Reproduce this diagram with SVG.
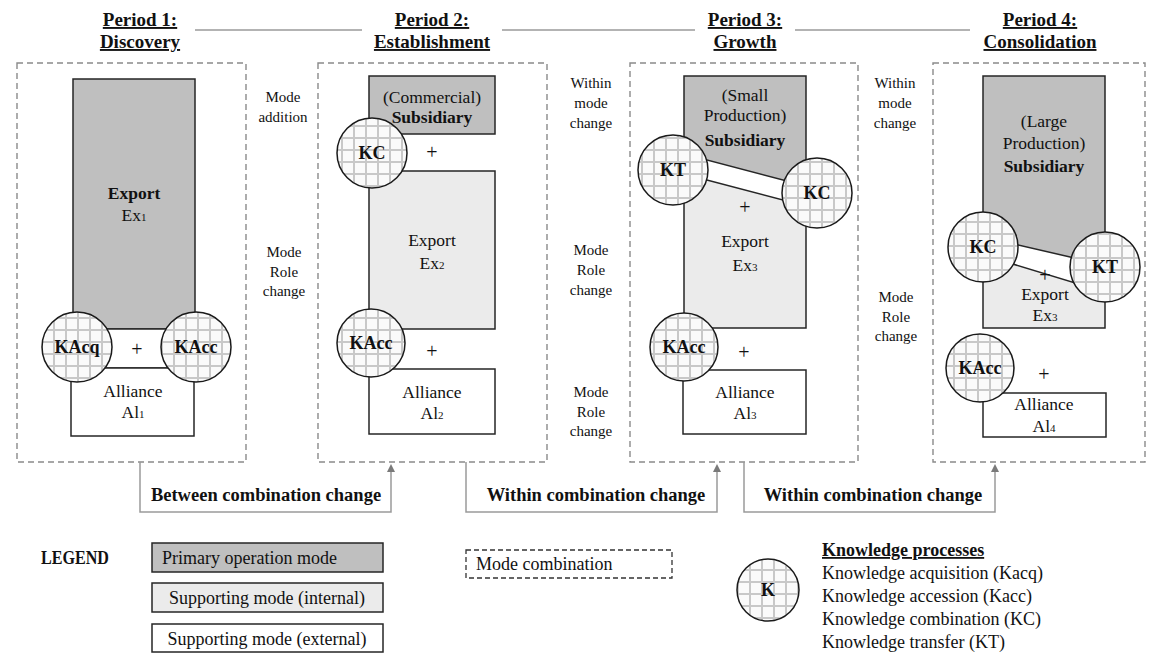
<svg xmlns="http://www.w3.org/2000/svg" width="1156" height="653" viewBox="0 0 1156 653">
<style>
text{font-family:"Liberation Serif","Times New Roman",serif;fill:#111;}
.hd{font-size:19px;font-weight:bold;text-anchor:middle;text-decoration:underline;}
.t{font-size:17.5px;text-anchor:middle;}
.b{font-weight:bold;}
.lbl{font-size:15px;text-anchor:middle;}
.kt{font-size:18px;font-weight:bold;text-anchor:middle;}
.plus{font-size:20px;text-anchor:middle;}
.dash{fill:none;stroke:#8a8a8a;stroke-width:1.4;stroke-dasharray:6 4;}
.prim{fill:#bfbfbf;stroke:#262626;stroke-width:1.5;}
.int{fill:#ebebeb;stroke:#262626;stroke-width:1.5;}
.ext{fill:#fff;stroke:#262626;stroke-width:1.5;}
.k{fill:url(#grid);stroke:#1a1a1a;stroke-width:1.5;}
.hl{stroke:#9a9a9a;stroke-width:1.5;}
.br{fill:none;stroke:#9a9a9a;stroke-width:1.5;}
.brt{font-size:18.5px;font-weight:bold;text-anchor:middle;}
.lg{font-size:18px;}
</style>
<defs>
<pattern id="grid" width="12" height="12" patternUnits="userSpaceOnUse">
<rect width="12" height="12" fill="#fafafa"/>
<path d="M6 0V12M0 6H12" stroke="#c8c8c8" stroke-width="2"/>
</pattern>
<marker id="arr" markerWidth="8" markerHeight="8" refX="4" refY="4" orient="auto" markerUnits="userSpaceOnUse">
<path d="M0,0 L8,4 L0,8 Z" fill="#7a7a7a"/>
</marker>
</defs>

<g id="headers">
<text class="hd" x="140" y="26">Period 1:</text>
<text class="hd" x="140" y="48">Discovery</text>
<text class="hd" x="432" y="26">Period 2:</text>
<text class="hd" x="432" y="48">Establishment</text>
<text class="hd" x="745" y="26">Period 3:</text>
<text class="hd" x="745" y="48">Growth</text>
<text class="hd" x="1040" y="26">Period 4:</text>
<text class="hd" x="1040" y="48">Consolidation</text>
<line class="hl" x1="195" y1="30" x2="362" y2="30"/>
<line class="hl" x1="502" y1="30" x2="695" y2="30"/>
<line class="hl" x1="795" y1="30" x2="970" y2="30"/>
</g>

<g id="transition-labels">
<text class="lbl" x="283" y="102">Mode</text>
<text class="lbl" x="283" y="122">addition</text>
<text class="lbl" x="284" y="257">Mode</text>
<text class="lbl" x="284" y="277">Role</text>
<text class="lbl" x="284" y="296">change</text>
<text class="lbl" x="591" y="88">Within</text>
<text class="lbl" x="591" y="108">mode</text>
<text class="lbl" x="591" y="128">change</text>
<text class="lbl" x="591" y="255">Mode</text>
<text class="lbl" x="591" y="275">Role</text>
<text class="lbl" x="591" y="295">change</text>
<text class="lbl" x="591" y="397">Mode</text>
<text class="lbl" x="591" y="417">Role</text>
<text class="lbl" x="591" y="436">change</text>
<text class="lbl" x="895" y="88">Within</text>
<text class="lbl" x="895" y="108">mode</text>
<text class="lbl" x="895" y="128">change</text>
<text class="lbl" x="896" y="302">Mode</text>
<text class="lbl" x="896" y="322">Role</text>
<text class="lbl" x="896" y="341">change</text>
</g>

<g id="period1">
<rect class="dash" x="17" y="63" width="229" height="399"/>
<rect class="prim" x="73" y="79" width="122" height="250"/>
<rect class="ext" x="73" y="329" width="122" height="39"/>
<rect class="ext" x="71" y="368" width="123" height="68"/>
<text class="t b" x="134" y="199">Export</text>
<text class="t" x="134" y="221">Ex<tspan font-size="11">1</tspan></text>
<text class="plus" x="137" y="356">+</text>
<text class="t" x="133" y="397">Alliance</text>
<text class="t" x="133" y="418">Al<tspan font-size="11">1</tspan></text>
<circle class="k" cx="77" cy="347" r="35"/>
<text class="kt" x="77" y="353">KAcq</text>
<circle class="k" cx="196" cy="347" r="35"/>
<text class="kt" x="196" y="353">KAcc</text>
</g>

<g id="period2">
<rect class="dash" x="318" y="63" width="229" height="399"/>
<rect class="prim" x="369" y="76" width="126" height="58"/>
<text class="t" x="432" y="103">(Commercial)</text>
<text class="t b" x="432" y="123">Subsidiary</text>
<rect class="int" x="369" y="171" width="126" height="158"/>
<text class="t" x="432" y="246">Export</text>
<text class="t" x="432" y="269">Ex<tspan font-size="11">2</tspan></text>
<rect class="ext" x="369" y="369" width="126" height="65"/>
<text class="t" x="432" y="398">Alliance</text>
<text class="t" x="432" y="419">Al<tspan font-size="11">2</tspan></text>
<text class="plus" x="432" y="159">+</text>
<text class="plus" x="432" y="358">+</text>
<circle class="k" cx="372" cy="153" r="35"/>
<text class="kt" x="372" y="159">KC</text>
<circle class="k" cx="371" cy="343" r="34"/>
<text class="kt" x="371" y="349">KAcc</text>
</g>

<g id="period3">
<rect class="dash" x="630" y="63" width="228" height="399"/>
<polygon class="prim" points="684,76 806,76 806,186 684,154"/>
<text class="t" x="745" y="101">(Small</text>
<text class="t" x="745" y="121">Production)</text>
<text class="t b" x="745" y="146">Subsidiary</text>
<polygon class="int" points="684,174 806,206 806,328 684,328"/>
<text class="plus" x="745" y="214">+</text>
<text class="t" x="745" y="247">Export</text>
<text class="t" x="745" y="271">Ex<tspan font-size="11">3</tspan></text>
<rect class="ext" x="683" y="370" width="123" height="64"/>
<text class="t" x="745" y="398">Alliance</text>
<text class="t" x="745" y="419">Al<tspan font-size="11">3</tspan></text>
<text class="plus" x="744" y="359">+</text>
<circle class="k" cx="673" cy="170" r="35"/>
<text class="kt" x="673" y="176">KT</text>
<circle class="k" cx="817" cy="193" r="35"/>
<text class="kt" x="817" y="199">KC</text>
<circle class="k" cx="684" cy="347" r="34"/>
<text class="kt" x="684" y="353">KAcc</text>
</g>

<g id="period4">
<rect class="dash" x="933" y="63" width="212" height="399"/>
<polygon class="prim" points="983,76 1105,76 1105,265 983,237"/>
<text class="t" x="1044" y="127">(Large</text>
<text class="t" x="1044" y="149">Production)</text>
<text class="t b" x="1044" y="172">Subsidiary</text>
<polygon class="int" points="983,255 1105,292 1105,328 983,328"/>
<text class="plus" x="1045" y="282" font-size="18">+</text>
<text class="t" x="1045" y="300">Export</text>
<text class="t" x="1045" y="321">Ex<tspan font-size="11">3</tspan></text>
<rect class="ext" x="983" y="393" width="123" height="44"/>
<text class="t" x="1044" y="410">Alliance</text>
<text class="t" x="1044" y="432">Al<tspan font-size="11">4</tspan></text>
<text class="plus" x="1044" y="381">+</text>
<circle class="k" cx="983" cy="247" r="35"/>
<text class="kt" x="983" y="253">KC</text>
<circle class="k" cx="1105" cy="267" r="35"/>
<text class="kt" x="1105" y="273">KT</text>
<circle class="k" cx="980" cy="368" r="34"/>
<text class="kt" x="980" y="374">KAcc</text>
</g>

<g id="connectors">
<path class="br" d="M140,462 V512 H391 V468" marker-end="url(#arr)"/>
<path class="br" d="M466,462 V512 H717 V468" marker-end="url(#arr)"/>
<path class="br" d="M744,462 V512 H995 V468" marker-end="url(#arr)"/>
<text class="brt" x="266" y="501">Between combination change</text>
<text class="brt" x="596" y="501">Within combination change</text>
<text class="brt" x="873" y="501">Within combination change</text>
</g>

<g id="legend">
<text class="b" x="41" y="564" font-size="18.5" textLength="68" lengthAdjust="spacingAndGlyphs">LEGEND</text>
<rect class="prim" x="152" y="543" width="231" height="29"/>
<text class="lg" x="162" y="564">Primary  operation mode</text>
<rect class="int" x="152" y="583" width="231" height="29"/>
<text class="lg" x="267" y="604" text-anchor="middle">Supporting mode (internal)</text>
<rect class="ext" x="152" y="624" width="231" height="28"/>
<text class="lg" x="267" y="645" text-anchor="middle">Supporting mode (external)</text>
<rect x="466" y="550" width="206" height="28" fill="none" stroke="#333" stroke-width="1.3" stroke-dasharray="5 3"/>
<text class="lg" x="476" y="570">Mode combination</text>
<circle class="k" cx="768" cy="590" r="31"/>
<text class="kt" x="768" y="596">K</text>
<text class="lg b" x="822" y="556" text-decoration="underline">Knowledge processes</text>
<text class="lg" x="822" y="579">Knowledge acquisition (Kacq)</text>
<text class="lg" x="822" y="602">Knowledge accession (Kacc)</text>
<text class="lg" x="822" y="625">Knowledge combination (KC)</text>
<text class="lg" x="822" y="648">Knowledge transfer (KT)</text>
</g>
</svg>
